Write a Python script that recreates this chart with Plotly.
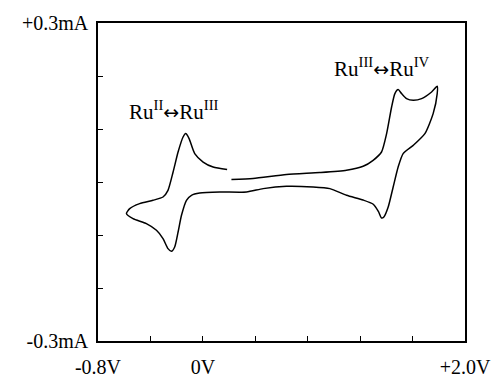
import plotly.graph_objects as go

# Cyclic voltammogram, potential in V, current in mA
potential_V = [
    0.218, 0.383, 0.638, 0.892, 1.096, 1.223, 1.299, 1.363, 1.402, 1.440, 1.465,
    1.490, 1.516, 1.554, 1.605, 1.669, 1.745, 1.788,
    1.788, 1.757, 1.694, 1.605, 1.528, 1.490, 1.452, 1.414, 1.381, 1.363, 1.340,
    1.300, 1.223, 1.096, 0.969, 0.841, 0.638, 0.460, 0.333, 0.129, -0.024, -0.087,
    -0.125, -0.163, -0.189, -0.215, -0.240, -0.266, -0.304, -0.354, -0.431, -0.533,
    -0.583,
    -0.558, -0.482, -0.380, -0.304, -0.266, -0.227, -0.189, -0.151, -0.131, -0.105,
    -0.062, 0.002, 0.078, 0.185,
]
current_mA = [
    0.0045, 0.0064, 0.0140, 0.0177, 0.0221, 0.0296, 0.0409, 0.0566, 0.0913, 0.1415, 0.1668,
    0.1743, 0.1668, 0.1574, 0.1542, 0.1574, 0.1698, 0.1806,
    0.1668, 0.1290, 0.0913, 0.0692, 0.0536, 0.0283, -0.0094, -0.0472, -0.0660, -0.0680, -0.0560,
    -0.0420, -0.0340, -0.0250, -0.0125, -0.0094, -0.0081, -0.0125, -0.0189, -0.0189, -0.0208, -0.0251,
    -0.0345, -0.0628, -0.0943, -0.1226, -0.1308, -0.1257, -0.1068, -0.0911, -0.0785, -0.0691,
    -0.0596,
    -0.0502, -0.0408, -0.0345, -0.0283, -0.0157, 0.0189, 0.0566, 0.0849, 0.0913, 0.0819,
    0.0536, 0.0377, 0.0283, 0.0234,
]

x_tick_vals = [-0.8, -0.4, 0.0, 0.4, 0.8, 1.2, 1.6, 2.0]
x_tick_text = ["-0.8V", "", "0V", "", "", "", "", "+2.0V"]
y_tick_vals = [-0.3, -0.2, -0.1, 0.0, 0.1, 0.2, 0.3]
y_tick_text = ["-0.3mA", "", "", "", "", "", "+0.3mA"]

ARROW = '<span style="font-family:DejaVu Sans;font-size:19px">↔</span>'
labels = ["Ru<sup>II</sup>" + ARROW + "Ru<sup>III</sup>",
          "Ru<sup>III</sup>" + ARROW + "Ru<sup>IV</sup>"]
label_x = [-0.218, 1.369]
label_y = [0.135, 0.216]

FONT = "Liberation Serif, Times New Roman, serif"

fig = go.Figure()
fig.add_trace(go.Scatter(
    x=potential_V, y=current_mA, mode="lines",
    line=dict(color="black", width=1.5, shape="spline", smoothing=0.6),
    showlegend=False, hoverinfo="skip",
))

for t, lx, ly in zip(labels, label_x, label_y):
    fig.add_annotation(x=lx, y=ly, text=t, showarrow=False,
                       font=dict(family=FONT, size=21, color="black"))

fig.update_xaxes(
    range=[-0.8, 2.0], tickvals=x_tick_vals, ticktext=x_tick_text,
    ticks="inside", ticklen=5, tickwidth=1.2, tickcolor="black",
    showline=True, linecolor="black", linewidth=1.5, mirror=True,
    showgrid=False, zeroline=False, automargin=False,
    ticklabelstandoff=7,
    tickfont=dict(family=FONT, size=20, color="black"),
)
fig.update_yaxes(
    range=[-0.3, 0.3], tickvals=y_tick_vals, ticktext=y_tick_text,
    ticks="inside", ticklen=5, tickwidth=1.2, tickcolor="black",
    showline=True, linecolor="black", linewidth=1.5, mirror=True,
    showgrid=False, zeroline=False, automargin=False,
    ticklabelstandoff=4,
    tickfont=dict(family=FONT, size=20, color="black"),
)
fig.update_layout(
    width=493, height=368,
    margin=dict(l=90, r=36, t=15, b=35, autoexpand=False),
    paper_bgcolor="white", plot_bgcolor="white",
    font=dict(family=FONT, color="black"),
)
fig.write_html("out.html")
